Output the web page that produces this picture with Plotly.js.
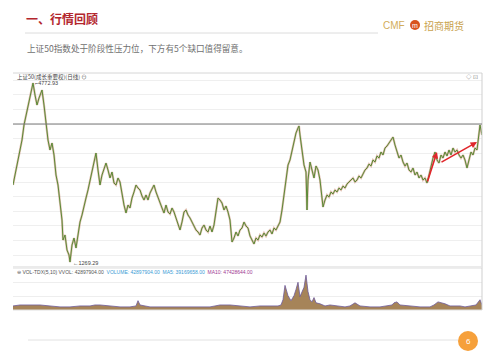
<!DOCTYPE html>
<html>
<head>
<meta charset="utf-8">
<script src="https://cdn.plot.ly/plotly-3.0.1.min.js"></script>
<style>
html,body{margin:0;padding:0;background:#fff;}
#chart{width:499px;height:363px;}
</style>
</head>
<body>
<div id="chart"></div>
<script>
// ---- data ----
const days = [
  0,3,5,7,9,11,13,15,17,19,
  20,22,24,26,28,29,31,33,35,37,
  39,41,43,45,47,49,50,52,54,56,
  57,59,61,63,65,67,69,71,73,75,
  77,79,81,83,85,87,89,91,93,95,
  97,99,101,103,105,107,109,111,113,115,
  117,119,121,123,125,127,129,131,133,135,
  137,139,141,143,145,147,149,151,153,155,
  157,159,161,163,165,167,169,171,173,175,
  177,179,181,183,185,187,189,191,193,195,
  197,199,201,203,205,207,209,211,213,215,
  217,219,221,223,225,227,229,231,233,235,
  237,239,241,243,245,247,249,251,253,255,
  257,259,261,263,265,267,269,271,273,275,
  277,279,281,283,285,286,287,289,291,293,
  294,295,297,299,301,303,305,307,309,310,
  312,314,316,318,320,322,324,326,328,330,
  332,334,336,338,340,342,344,346,348,350,
  352,354,356,358,360,362,364,366,368,370,
  372,374,376,378,380,382,384,386,388,390,
  392,394,396,398,400,402,404,406,408,410,
  412,414,416,418,420,422,424,426,428,430,
  432,434,436,438,440,442,444,446,448,450,
  452,454,456,458,460,462,464,466,467,469
];
const closes = [
  2777,3070,3266,3462,3657,3951,4147,4342,4538,4675,
  4773,4538,4342,4479,4597,4636,4342,3951,3657,3462,
  3599,3364,2972,2777,2483,2091,1700,1798,1504,1406,
  1269,1602,1739,1544,1798,2052,2189,2385,2522,2679,
  2874,3070,3266,3403,3070,2777,2972,3109,3207,3070,
  2914,3031,2816,2777,2914,2836,2581,2385,2229,2385,
  2327,2522,2640,2777,2718,2679,2562,2483,2581,2483,
  2620,2718,2777,2640,2522,2444,2327,2229,2385,2248,
  2209,2327,2248,2131,1994,1896,2052,2248,2287,2189,
  2131,2052,1974,1896,1857,1798,1935,1994,1896,1857,
  1974,1857,1994,2287,2522,2483,2424,2287,2366,2248,
  2091,1661,1739,1857,1779,1896,1935,2052,1974,1935,
  1779,1700,1622,1739,1700,1798,1759,1837,1779,1857,
  1896,1818,1935,1896,1974,2052,2287,2581,2972,3168,
  3266,3462,3618,3795,3892,3932,3755,3462,3168,3031,
  2287,2874,3227,3070,2914,3149,3070,2874,2483,2346,
  2483,2581,2542,2640,2601,2679,2640,2718,2679,2757,
  2718,2796,2836,2874,2914,2836,2874,2953,2914,2992,
  3070,3109,3188,3149,3266,3227,3345,3305,3423,3364,
  3501,3540,3599,3657,3716,3559,3423,3305,3364,3227,
  3149,3207,3070,3031,3109,2972,3031,2914,2972,2874,
  2914,2816,2972,3168,3305,3423,3266,3207,3364,3305,
  3423,3345,3462,3364,3501,3423,3462,3364,3305,3364,
  3266,3109,3266,3423,3364,3501,3462,3892,3951,3755
];
const volDays = [
  0,7,17,27,37,47,57,67,77,82,87,97,107,117,123,125,127,132,137,147,
  157,167,177,187,197,202,207,217,227,237,247,257,265,268,270,272,275,278,281,283,
  285,287,289,291,293,295,297,299,301,303,307,312,317,327,332,337,339,342,347,357,
  367,375,379,381,384,387,397,407,417,419,421,425,432,437,447,452,457,463,467,469
];
const volumes = [
  17,21,21,21,17,13,13,17,17,21,21,17,13,13,17,39,21,17,13,13,
  13,13,13,13,13,17,21,21,17,13,17,17,17,21,43,103,60,39,60,86,
  116,56,73,95,146,77,43,34,52,30,26,17,21,17,13,17,21,30,17,13,
  13,17,21,30,34,21,17,13,13,17,21,34,26,17,17,13,17,21,43,21
];
const peakLabel = "4772.93", lowLabel = "1269.29";
const resistanceLevel = 3970;
// gap arrows: [startDay, startPrice, endDay, endPrice]
const gapArrows = [[414, 2816, 424, 3423], [427, 3207, 464, 3618]];

// ---- helpers for paper coords (pixels of the 499x363 page) ----
const W = 499, H = 363;
const px = x => x / W, py = y => 1 - y / H;

const traces = [
  {x: days, y: closes, type: 'scatter', mode: 'lines', xaxis: 'x', yaxis: 'y',
   line: {color: '#b0603a', width: 2.2}, opacity: 0.4, hoverinfo: 'skip'},
  {x: days, y: closes, type: 'scatter', mode: 'lines', xaxis: 'x', yaxis: 'y',
   line: {color: '#5a8a36', width: 1}, hoverinfo: 'skip'},
  {x: volDays, y: volumes, type: 'scatter', mode: 'lines', xaxis: 'x', yaxis: 'y2',
   fill: 'tozeroy', fillcolor: 'rgba(150,110,60,0.85)',
   line: {color: '#6d5a9a', width: 0.8}, hoverinfo: 'skip'}
];

const cjk = '"Noto Sans CJK SC", sans-serif';
const ann = [
  {text: '<b>一、行情回顾</b>', x: px(24), y: py(19), xanchor: 'left', yanchor: 'middle',
   font: {family: cjk, size: 12, color: '#b3262d'}},
  {text: 'CMF', x: px(381), y: py(25), xanchor: 'left', yanchor: 'middle',
   font: {family: 'Arial, sans-serif', size: 10, color: '#d2ad5a'}},
  {text: 'm', x: px(415), y: py(25), xanchor: 'center', yanchor: 'middle',
   font: {family: 'Arial, sans-serif', size: 7, color: '#fff'}},
  {text: '招商期货', x: px(422), y: py(25), xanchor: 'left', yanchor: 'middle',
   font: {family: cjk, size: 10, color: '#c9a24e'}},
  {text: '上证50指数处于阶段性压力位，下方有5个缺口值得留意。', x: px(25), y: py(48),
   xanchor: 'left', yanchor: 'middle', font: {family: cjk, size: 8.6, color: '#707070'}},
  {text: '上证50(成长重要权)(日线) ⊖', x: px(15), y: py(77), xanchor: 'left', yanchor: 'middle',
   font: {family: cjk, size: 5.5, color: '#444'}},
  {text: '◇ ⊡', x: px(480), y: py(77), xanchor: 'right', yanchor: 'middle',
   font: {family: cjk, size: 5.5, color: '#888'}},
  {text: '⊖ VOL-TDX(5,10) VVOL: 42897904.00  ' +
         '<span style="color:#3a9bd5">VOLUME: 42897904.00  MA5: 39169658.00</span>  ' +
         '<span style="color:#a13a93">MA10: 47428644.00</span>',
   x: px(15), y: py(271.5), xanchor: 'left', yanchor: 'middle',
   font: {family: 'Arial, sans-serif', size: 5, color: '#555'}},
  {text: '6', x: px(468), y: py(341), xanchor: 'center', yanchor: 'middle',
   font: {family: 'Arial, sans-serif', size: 8, color: '#fff'}}
].map(a => Object.assign({xref: 'paper', yref: 'paper', showarrow: false}, a));

// data-anchored labels
const iPeak = closes.indexOf(Math.max(...closes));
const iLow = closes.indexOf(Math.min(...closes));
ann.push({text: '⌐' + peakLabel, x: days[iPeak], y: closes[iPeak], xref: 'x', yref: 'y',
  showarrow: false, xanchor: 'left', yanchor: 'middle', xshift: 0,
  font: {family: 'Arial, sans-serif', size: 5.5, color: '#444'}});
ann.push({text: '←' + lowLabel, x: days[iLow], y: closes[iLow], xref: 'x', yref: 'y',
  showarrow: false, xanchor: 'left', yanchor: 'middle', xshift: 1, yshift: -1,
  font: {family: 'Arial, sans-serif', size: 5.5, color: '#444'}});
gapArrows.forEach(g => ann.push({
  x: g[2], y: g[3], ax: g[0], ay: g[1], xref: 'x', yref: 'y', axref: 'x', ayref: 'y',
  text: '', showarrow: true, arrowhead: 2, arrowsize: 0.8, arrowwidth: 1.6, arrowcolor: '#e0262b'
}));

const shapes = [
  {type: 'line', xref: 'paper', yref: 'paper', x0: px(25), x1: px(378), y0: py(33), y1: py(33),
   line: {color: '#dcdcdc', width: 1}},
  {type: 'circle', xref: 'paper', yref: 'paper', x0: px(410), x1: px(420), y0: py(30), y1: py(20),
   fillcolor: '#d8531f', line: {width: 0}},
  {type: 'line', xref: 'paper', yref: 'paper', x0: px(13), x1: px(482), y0: py(73), y1: py(73),
   line: {color: '#d6d6d6', width: 1}},
  {type: 'line', xref: 'paper', yref: 'paper', x0: px(482), x1: px(482), y0: py(73), y1: py(310),
   line: {color: '#cfcfcf', width: 1}},
  {type: 'line', xref: 'paper', yref: 'paper', x0: px(13), x1: px(482), y0: py(267), y1: py(267),
   line: {color: '#e4e4e4', width: 1.5}},
  {type: 'line', xref: 'paper', yref: 'paper', x0: px(13), x1: px(482), y0: py(310), y1: py(310),
   line: {color: '#e0e0e0', width: 1}},
  {type: 'line', xref: 'x domain', yref: 'y', x0: 0, x1: 1, y0: resistanceLevel, y1: resistanceLevel,
   line: {color: '#7a7a7a', width: 1.1}},
  {type: 'line', xref: 'paper', yref: 'paper', x0: px(28), x1: px(458), y0: py(340), y1: py(340),
   line: {color: '#e2e2e2', width: 1}},
  {type: 'circle', xref: 'paper', yref: 'paper', x0: px(458), x1: px(478), y0: py(351), y1: py(331),
   fillcolor: '#f6a03b', line: {width: 0}}
];

const layout = {
  width: W, height: H, margin: {l: 0, r: 0, t: 0, b: 0},
  paper_bgcolor: '#fff', plot_bgcolor: 'rgba(0,0,0,0)', showlegend: false,
  xaxis: {domain: [px(13), px(482)], range: [0, 469], showgrid: false, zeroline: false,
          showticklabels: false, ticks: '', anchor: 'y2'},
  yaxis: {domain: [py(267), py(73)], range: [1172, 4969], tick0: resistanceLevel, dtick: 285,
          gridcolor: '#efefef', gridwidth: 1, zeroline: false, showticklabels: false, ticks: ''},
  yaxis2: {domain: [py(310), py(267)], range: [0, 180], dtick: 58, gridcolor: '#eeeeee',
           zeroline: false, showticklabels: false, ticks: ''},
  shapes: shapes, annotations: ann
};

Plotly.newPlot('chart', traces, layout, {staticPlot: true, displayModeBar: false});
</script>
</body>
</html>
